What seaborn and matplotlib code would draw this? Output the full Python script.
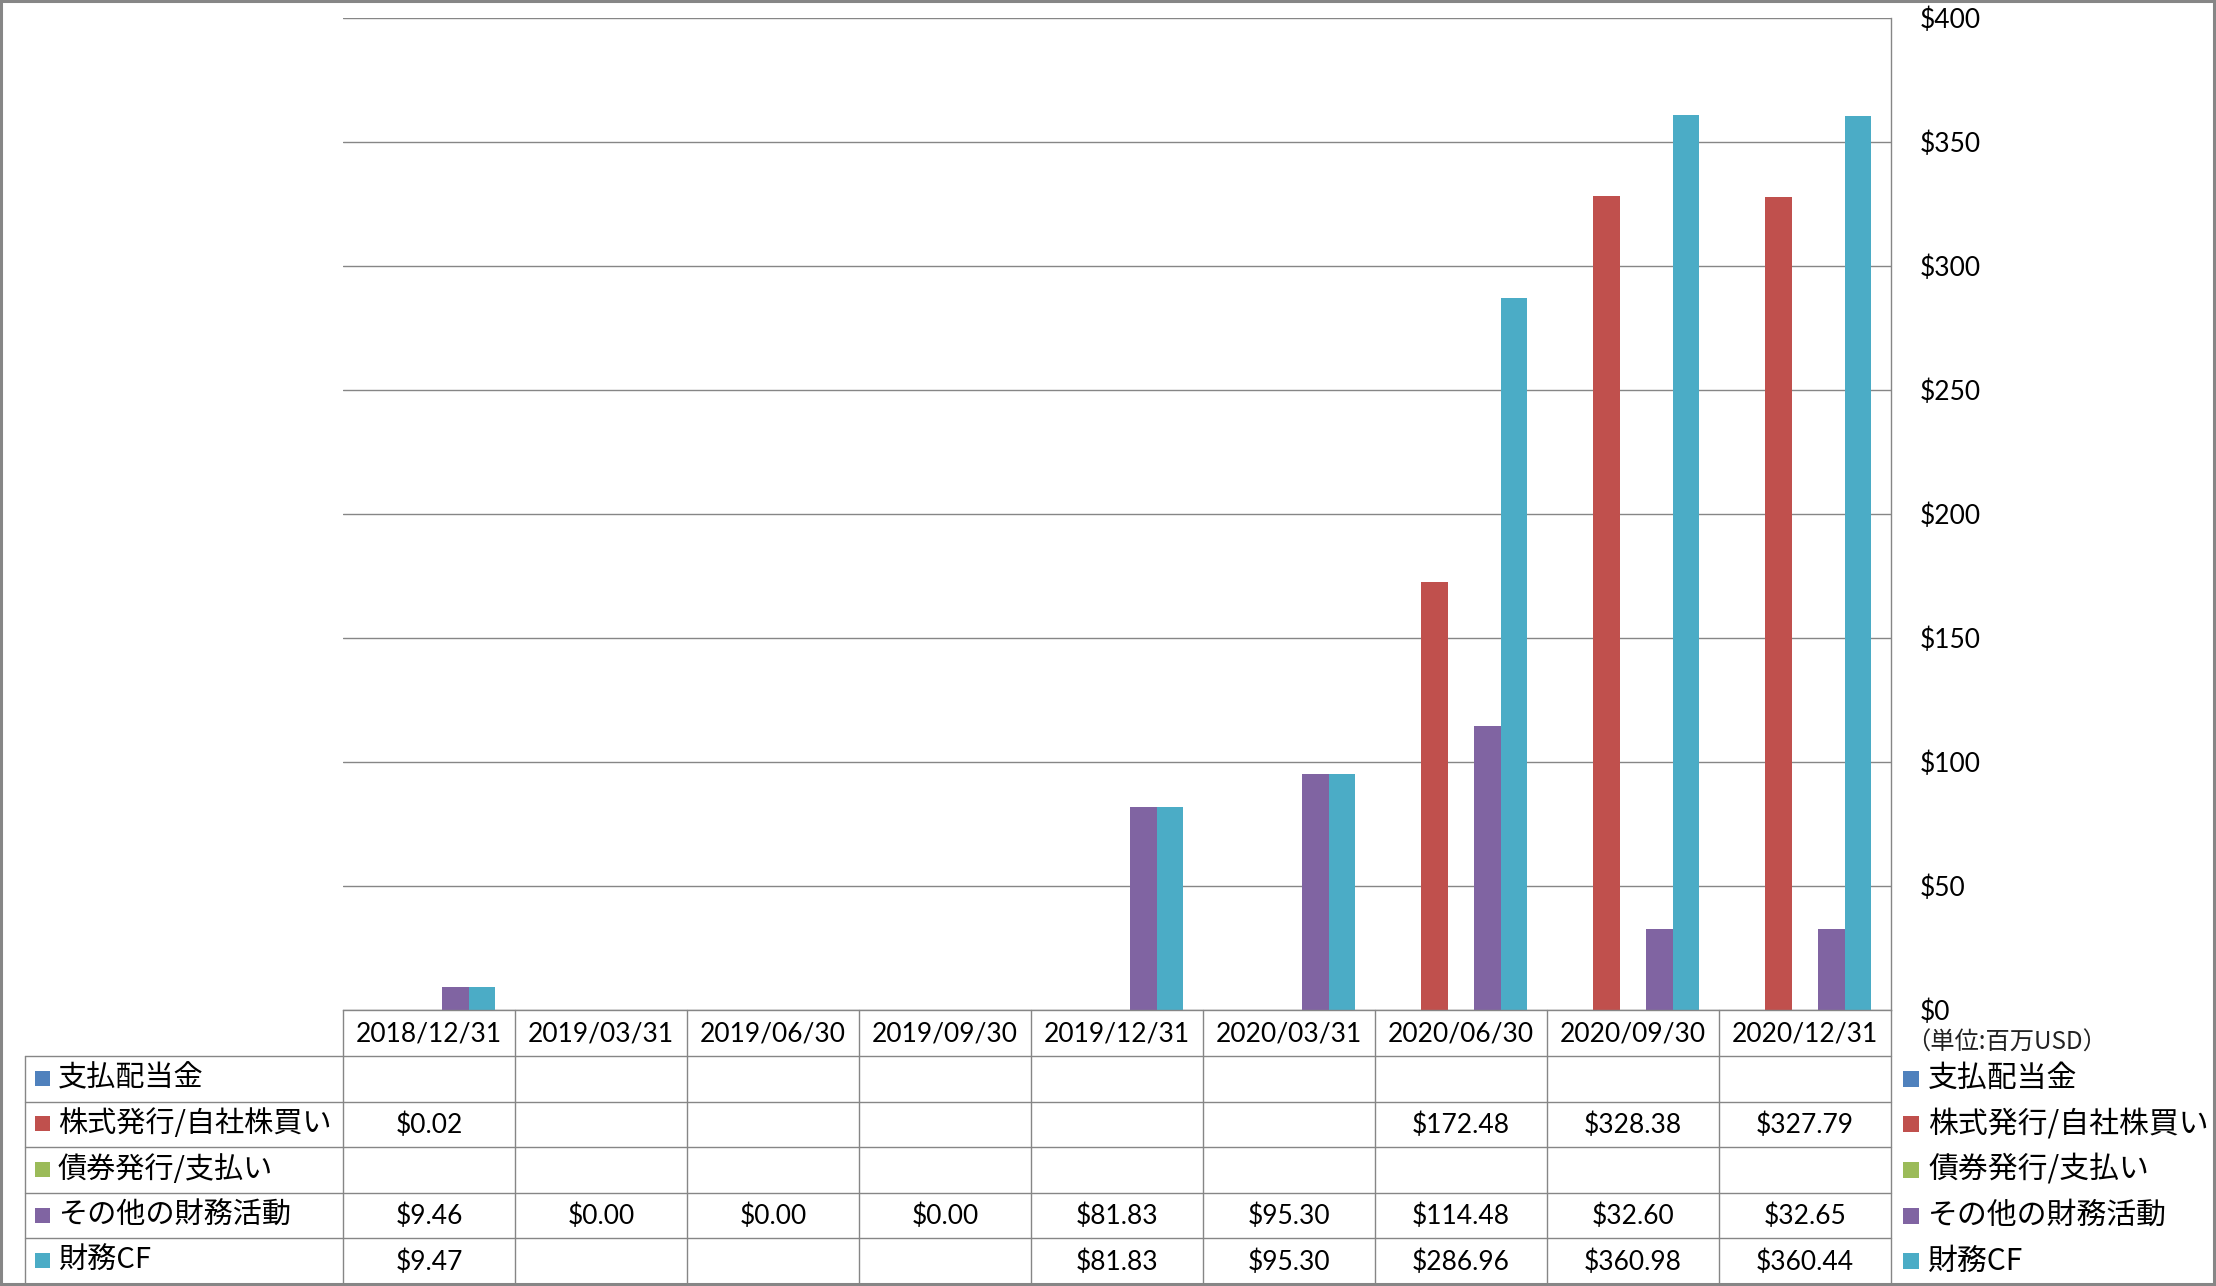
import numpy as np
import pandas as pd
import matplotlib
matplotlib.use("Agg")
import matplotlib.pyplot as plt
import seaborn as sns
from matplotlib.patches import Rectangle

nan = np.nan
dates = ['2018/12/31', '2019/03/31', '2019/06/30', '2019/09/30', '2019/12/31',
         '2020/03/31', '2020/06/30', '2020/09/30', '2020/12/31']
series_names = ['支払配当金', '株式発行/自社株買い', '債券発行/支払い', 'その他の財務活動', '財務CF']
dividends = [nan, nan, nan, nan, nan, nan, nan, nan, nan]
equity = [0.02, nan, nan, nan, nan, nan, 172.48, 328.38, 327.79]
bonds = [nan, nan, nan, nan, nan, nan, nan, nan, nan]
other = [9.46, 0.00, 0.00, 0.00, 81.83, 95.30, 114.48, 32.60, 32.65]
fin_cf = [9.47, nan, nan, nan, 81.83, 95.30, 286.96, 360.98, 360.44]
colors = ['#4F81BD', '#C0504D', '#9BBB59', '#8064A2', '#4BACC6']
y_ticks = [0, 50, 100, 150, 200, 250, 300, 350, 400]
unit_label = '（単位:百万USD）'

series_values = [dividends, equity, bonds, other, fin_cf]

sns.set_theme(style='white')
plt.rcParams['font.family'] = ['Lato', 'Noto Sans CJK JP', 'DejaVu Sans']

W, H = 2216, 1286
fig = plt.figure(figsize=(W / 100, H / 100), dpi=100)
fig.patch.set_facecolor('white')

L, R, T, B = 343, 1891, 18, 1010
GRAY = '#868686'

ax = fig.add_axes([L / W, 1 - B / H, (R - L) / W, (B - T) / H])

rows = []
for name, vals in zip(series_names, series_values):
    for d, v in zip(dates, vals):
        rows.append({'date': d, 'series': name, 'value': 0.0 if np.isnan(v) else v})
df = pd.DataFrame(rows)

sns.barplot(data=df, x='date', y='value', hue='series', order=dates,
            hue_order=series_names, palette=colors, width=0.773,
            errorbar=None, saturation=1, linewidth=0, legend=False, ax=ax)

ax.set_xlim(-0.5, len(dates) - 0.5)
ax.set_ylim(y_ticks[0], y_ticks[-1])
ax.set_yticks(y_ticks)
ax.set_yticklabels([f'${t}' for t in y_ticks])
ax.yaxis.tick_right()
ax.tick_params(axis='y', length=0, pad=21, labelsize=19, colors='black')
ax.set_xticks([])
ax.set_xlabel('')
ax.set_ylabel('')
ax.set_axisbelow(True)
ax.grid(axis='y', color=GRAY, linewidth=1.0)
ax.grid(axis='x', visible=False)
for s in ['left', 'top']:
    ax.spines[s].set_visible(False)
for s in ['right', 'bottom']:
    ax.spines[s].set_visible(True)
    ax.spines[s].set_color(GRAY)
    ax.spines[s].set_linewidth(1.0)
ax.set_facecolor('none')

# overlay for table / legend
ov = fig.add_axes([0, 0, 1, 1], zorder=5)
ov.set_xlim(0, W)
ov.set_ylim(H, 0)
ov.axis('off')
ov.patch.set_alpha(0)

ncol = len(dates)
colw = (R - L) / ncol
col_x = [L + i * colw for i in range(ncol + 1)]
header_bottom = 1056
table_bottom = 1284
rowh = (table_bottom - header_bottom) / len(series_names)
row_y = [header_bottom + i * rowh for i in range(len(series_names) + 1)]
label_left = 25

lw = 1.0
for x in col_x:
    ov.plot([x, x], [B, table_bottom], color=GRAY, lw=lw)
ov.plot([label_left, label_left], [header_bottom, table_bottom], color=GRAY, lw=lw)
for y in row_y[:-1]:
    ov.plot([label_left, R], [y, y], color=GRAY, lw=lw)

for i, d in enumerate(dates):
    ov.text((col_x[i] + col_x[i + 1]) / 2, (B + header_bottom) / 2 + 1, d,
            ha='center', va='center', fontsize=19, color='black')

for r, (name, vals, c) in enumerate(zip(series_names, series_values, colors)):
    yc = (row_y[r] + row_y[r + 1]) / 2
    for i, v in enumerate(vals):
        if not np.isnan(v):
            ov.text((col_x[i] + col_x[i + 1]) / 2, yc + 1, f'${v:,.2f}',
                    ha='center', va='center', fontsize=19, color='black')
    ov.add_patch(Rectangle((35, yc - 8), 15, 15, color=c, lw=0))
    ov.text(58, yc, name, ha='left', va='center', fontsize=21, color='black',
            family=['Noto Sans CJK JP', 'DejaVu Sans'])
    ov.add_patch(Rectangle((1903, yc - 8), 16, 16, color=c, lw=0))
    ov.text(1928, yc, name, ha='left', va='center', fontsize=21.5, color='black',
            family=['Noto Sans CJK JP', 'DejaVu Sans'])

ov.text(1906, 1043, unit_label, ha='left', va='center', fontsize=17.5, color='#222222',
        family=['Noto Sans CJK JP', 'DejaVu Sans'])

ov.add_patch(Rectangle((1, 1), W - 3, H - 3, fill=False, edgecolor=GRAY, lw=2.2))

fig.savefig('out.png', dpi=100, facecolor='white')
